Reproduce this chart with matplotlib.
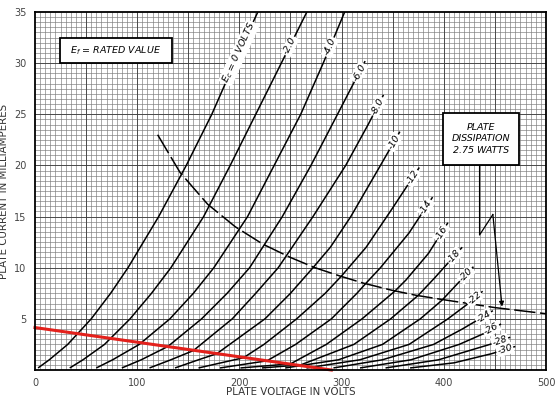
import math
import matplotlib
matplotlib.use("Agg")
import matplotlib.pyplot as plt
from matplotlib.patches import Rectangle
import numpy as np

# plate current (mA) vs plate voltage (V)
v_0 = [3, 14, 32, 55, 74, 91, 121, 148, 173, 195, 218]
i_0 = [0.2, 1, 2.5, 5, 7.5, 10, 15, 20, 25, 30, 35]
v_2 = [34, 47, 68, 93, 114, 133, 165, 191, 216, 241, 266]
i_2 = [0.2, 1, 2.5, 5, 7.5, 10, 15, 20, 25, 30, 35]
v_4 = [60, 76, 102, 132, 155, 175, 208, 234, 260, 282, 303]
i_4 = [0.2, 1, 2.5, 5, 7.5, 10, 15, 20, 25, 30, 35]
v_6 = [85, 104, 130, 163, 188, 210, 242, 270, 296, 323]
i_6 = [0.2, 1, 2.3, 5, 7.5, 10, 15, 20, 25, 30.2]
v_8 = [112, 133, 155, 193, 216, 238, 272, 304, 326, 341]
i_8 = [0.2, 1, 1.9, 5, 7.5, 10, 15, 20, 24, 26.9]
v_10 = [137, 160, 178, 225, 250, 272, 289, 309, 338, 357]
i_10 = [0.2, 1, 1.6, 5, 7.5, 10, 12, 15, 20, 23.3]
v_12 = [160, 204, 224, 256, 284, 300, 324, 351, 376]
i_12 = [0.2, 1.2, 2.5, 5, 7.5, 9.2, 12, 16, 19.8]
v_14 = [181, 227, 255, 290, 315, 324, 338, 366, 389]
i_14 = [0.2, 0.9, 2.5, 5, 7.5, 8.5, 10, 13.4, 16.9]
v_16 = [201, 250, 285, 320, 352, 363, 385, 404]
i_16 = [0.2, 0.6, 2.5, 5, 7.7, 8.8, 11.4, 14.4]
v_18 = [222, 260, 312, 348, 375, 391, 418]
i_18 = [0.2, 0.5, 2.5, 5, 7.3, 9, 12]
v_20 = [245, 297, 340, 377, 398, 429]
i_20 = [0.2, 1, 2.5, 5, 6.8, 10.1]
v_22 = [266, 318, 366, 404, 424, 438]
i_22 = [0.2, 1, 2.5, 5, 6.5, 7.7]
v_24 = [292, 340, 390, 418, 435, 448]
i_24 = [0.2, 1, 2.5, 4, 5, 5.8]
v_26 = [318, 368, 415, 440, 456]
i_26 = [0.2, 1, 2.5, 3.6, 4.5]
v_28 = [343, 395, 445, 465]
i_28 = [0.2, 1, 2.5, 3.2]
v_30 = [367, 410, 447, 470]
i_30 = [0.2, 0.7, 1.6, 2.3]

bias_labels = ["", "-2.0", "-4.0", "-6.0", "-8.0", "-10", "-12", "-14",
               "-16", "-18", "-20", "-22", "-24", "-26", "-28", "-30"]

# plate dissipation 2.75 W (dashed)
diss_v = [120, 142, 169, 196, 223, 250, 274, 298, 321, 349, 373, 398, 424, 450, 475, 500]
diss_i = [23.0, 19.3, 16.2, 14.0, 12.3, 11.0, 10.0, 9.2, 8.5, 7.8, 7.3, 6.9, 6.5, 6.1, 5.8, 5.5]

# red load line
load_v = [0, 290]
load_i = [4.15, 0]

# pointer from the dissipation box
arrow_v = [435, 435, 448, 457]
arrow_i = [20.0, 13.2, 15.2, 6.2]

curves = [(v_0, i_0), (v_2, i_2), (v_4, i_4), (v_6, i_6), (v_8, i_8),
          (v_10, i_10), (v_12, i_12), (v_14, i_14), (v_16, i_16),
          (v_18, i_18), (v_20, i_20), (v_22, i_22), (v_24, i_24),
          (v_26, i_26), (v_28, i_28), (v_30, i_30)]
label_back = [45, 38, 38, 13, 13, 12, 12, 12, 12, 12, 11, 11, 11, 11, 11, 11]

fig = plt.figure(figsize=(5.56, 3.98), dpi=100)
ax = fig.add_axes([35 / 556, 28 / 398, 511 / 556, 358 / 398])
ax.set_xlim(0, 500)
ax.set_ylim(0, 35)

# graph paper
for x in np.arange(5, 500, 5):
    ax.axvline(x, color="#7a7a7a", lw=0.45, zorder=1)
for y in np.arange(0.5, 35, 0.5):
    ax.axhline(y, color="#7a7a7a", lw=0.45, zorder=1)
for x in np.arange(50, 500, 50):
    ax.axvline(x, color="#3c3c3c", lw=0.6, zorder=1)
for y in np.arange(5, 35, 5):
    ax.axhline(y, color="#3c3c3c", lw=0.6, zorder=1)

for v, i in curves:
    ax.plot(v, i, color="black", lw=1.1, zorder=3, solid_capstyle="butt")

ax.plot(diss_v, diss_i, color="black", lw=1.1, zorder=3,
        linestyle=(0, (14, 3)))
ax.plot(load_v, load_i, color="#e3211c", lw=2.2, zorder=4, clip_on=False)

ax.plot(arrow_v[:3], arrow_i[:3], color="black", lw=0.9, zorder=3)
ax.annotate("", xy=(arrow_v[3], arrow_i[3]), xytext=(arrow_v[2], arrow_i[2]),
            arrowprops=dict(arrowstyle="-|>", color="black", lw=0.9,
                            mutation_scale=7, shrinkA=0, shrinkB=0),
            zorder=3)


def along_curve(v, i, dist):
    pts = ax.transData.transform(np.column_stack([v, i]))
    left = dist
    for k in range(len(pts) - 1, 0, -1):
        a, b = pts[k - 1], pts[k]
        seg = math.hypot(*(b - a))
        ang = math.degrees(math.atan2(b[1] - a[1], b[0] - a[0]))
        if seg >= left or k == 1:
            p = b + (a - b) * min(left / seg, 1)
            return ax.transData.inverted().transform(p), ang
        left -= seg


for (v, i), txt, d in zip(curves, bias_labels, label_back):
    (px, py), ang = along_curve(v, i, d)
    if txt == "":
        txt = "$E_c$ = 0 VOLTS"
    ax.text(px, py, txt, rotation=ang, rotation_mode="anchor", ha="center",
            va="center", fontsize=6.8, style="italic", zorder=6,
            bbox=dict(fc="white", ec="none", pad=0.8))

# boxes
ax.add_patch(Rectangle((24, 30.0), 110, 2.5, fc="white", ec="black",
                       lw=1.3, zorder=5))
ax.text(79, 31.25, "$E_f$ = RATED VALUE", ha="center", va="center",
        fontsize=6.8, style="italic", zorder=6)
ax.add_patch(Rectangle((399.5, 20.0), 74.5, 5.1, fc="white", ec="black",
                       lw=1.3, zorder=5))
ax.text(436.5, 22.6, "PLATE\nDISSIPATION\n2.75 WATTS", ha="center",
        va="center", fontsize=6.8, style="italic", linespacing=1.35, zorder=6)

ax.set_xticks(range(0, 501, 100))
ax.set_yticks(range(5, 36, 5))
ax.tick_params(length=0, labelsize=7, labelcolor="#444444", pad=6)
for s in ax.spines.values():
    s.set_linewidth(1.3)
    s.set_zorder(7)

ax.set_xlabel("PLATE VOLTAGE IN VOLTS", fontsize=7.4, color="#333333")
ax.xaxis.set_label_coords(0.5, -0.047)
ax.set_ylabel("PLATE CURRENT IN MILLIAMPERES", fontsize=7.4, color="#333333")
ax.yaxis.set_label_coords(-0.05, 0.5)

fig.savefig("out.png", dpi=100)
